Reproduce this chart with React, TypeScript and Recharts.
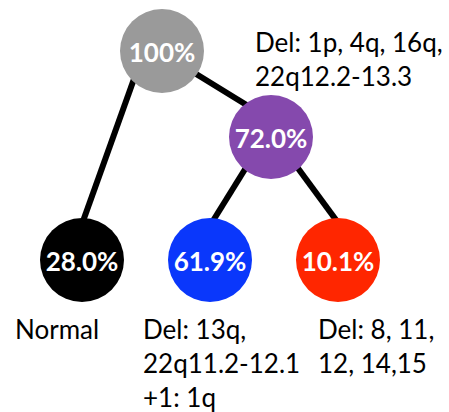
import { ScatterChart, Scatter, XAxis, YAxis } from "recharts";

// tree layout, in picture pixels (x right, y down)
const nodeLabels = ["100%", "72.0%", "28.0%", "61.9%", "10.1%"];
const nodeX = [162, 271, 82, 210, 338];
const nodeY = [51, 137, 260, 260, 260];
const nodeFill = ["#9a9a9a", "#8549ad", "#000000", "#0a37fb", "#ff2600"];

// edges drawn behind the nodes
const edges = [
  [{ x: 144, y: 51 }, { x: 82, y: 224 }],
  [{ x: 162, y: 53 }, { x: 271, y: 120 }],
  [{ x: 265, y: 137 }, { x: 211, y: 224 }],
  [{ x: 275, y: 137 }, { x: 339, y: 224 }],
];

// annotations: first-line baseline + lines
const noteX = [255, 15, 143, 318];
const noteY = [52, 339, 339, 339];
const noteLines = [
  ["Del: 1p, 4q, 16q,", "22q12.2-13.3"],
  ["Normal"],
  ["Del: 13q,", "22q11.2-12.1", "+1: 1q"],
  ["Del: 8, 11,", "12, 14,15"],
];

const FONT = "Lato, 'Open Sans', sans-serif";
const W = 449;
const H = 412;

const nodes = nodeLabels.map((label, i) => ({ x: nodeX[i], y: nodeY[i], label, fill: nodeFill[i] }));
const notes = noteLines.map((lines, i) => ({ x: noteX[i], y: noteY[i], lines }));

const NodeShape = (props: any) => {
  const { cx, cy, payload } = props;
  return (
    <g>
      <circle cx={cx} cy={cy} r={42} fill={payload.fill} />
      <text
        x={cx}
        y={cy + 1}
        textAnchor="middle"
        dominantBaseline="central"
        fill="#fff"
        fontFamily={FONT}
        fontWeight={700}
        fontSize={26}
      >
        {payload.label}
      </text>
    </g>
  );
};

const NoteShape = (props: any) => {
  const { cx, cy, payload } = props;
  return (
    <text x={cx} y={cy} fill="#000" fontFamily={FONT} fontSize={26}>
      {payload.lines.map((l: string, i: number) => (
        <tspan key={i} x={cx} y={cy + i * 34}>
          {l}
        </tspan>
      ))}
    </text>
  );
};

export default function App() {
  return (
    <div style={{ position: "absolute", left: 0, top: 0, width: W, height: H, background: "#fff" }}>
      <style>{"body{margin:0}"}</style>
      <ScatterChart width={W} height={H} margin={{ top: 0, right: 0, bottom: 0, left: 0 }}>
        <XAxis type="number" dataKey="x" domain={[0, W]} hide />
        <YAxis type="number" dataKey="y" domain={[0, H]} reversed hide />
        {edges.map((e, i) => (
          <Scatter
            key={i}
            data={e}
            line={{ stroke: "#000", strokeWidth: 6 }}
            shape={() => <g />}
            isAnimationActive={false}
          />
        ))}
        <Scatter data={nodes} shape={NodeShape} isAnimationActive={false} />
        <Scatter data={notes} shape={NoteShape} isAnimationActive={false} />
      </ScatterChart>
    </div>
  );
}
